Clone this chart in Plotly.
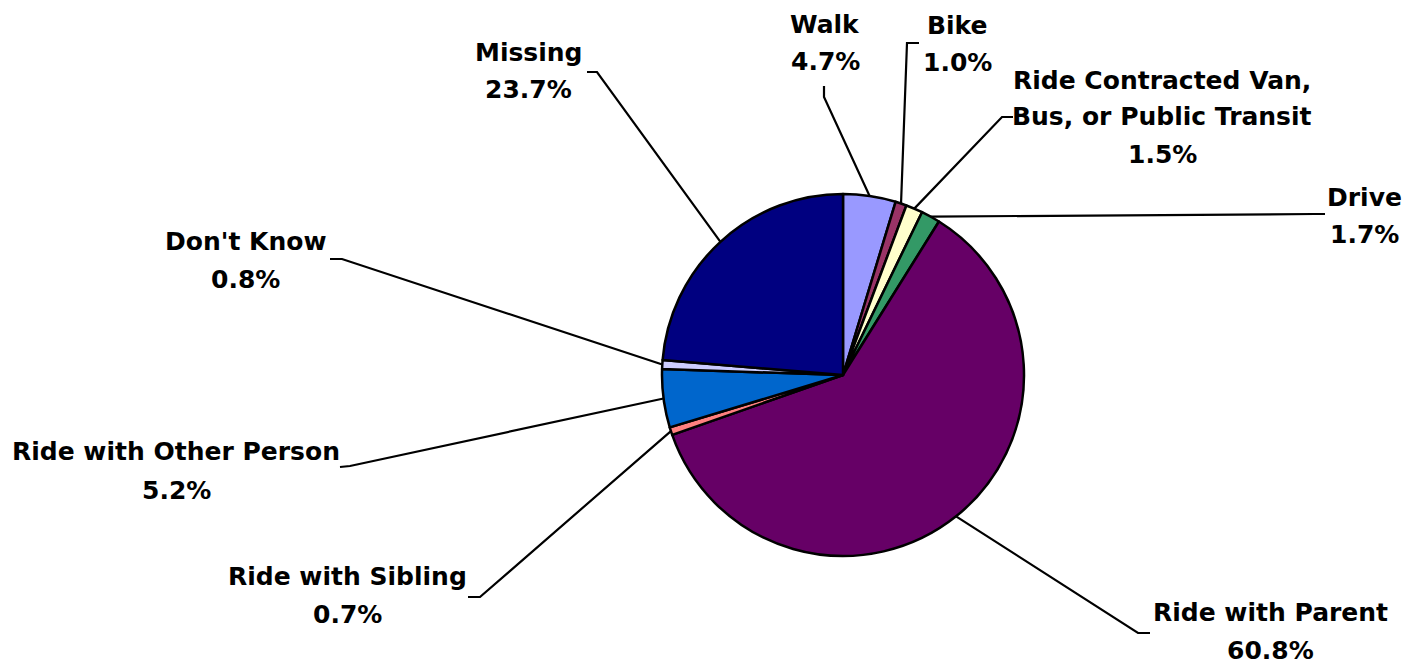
import plotly.graph_objects as go
import math

# ---- data ----
categories = ["Walk", "Bike", "Ride Contracted Van, Bus, or Public Transit", "Drive",
              "Ride with Parent", "Ride with Sibling", "Ride with Other Person",
              "Don't Know", "Missing"]
values = [4.7, 1.0, 1.5, 1.7, 60.8, 0.7, 5.2, 0.8, 23.7]
colors = ["#9999FF", "#993366", "#FFFFCC", "#339966", "#660066",
          "#FF8080", "#0066CC", "#CCCCFF", "#000080"]
label_lines = [["Walk"], ["Bike"], ["Ride Contracted Van,", "Bus, or Public Transit"],
               ["Drive"], ["Ride with Parent"], ["Ride with Sibling"],
               ["Ride with Other Person"], ["Don't Know"], ["Missing"]]

# ---- layout (pixels) ----
W, H = 1409, 667
CX, CY, R = 843, 375, 181
# label centre (x, y of first line), line spacing
label_pos = [(825, 24), (957, 25), (1162, 80), (1364, 197), (1270, 612),
             (347, 576), (176, 452), (245, 241), (528, 52)]
LINE_GAP = 38
# leader line: elbow point and end point
leaders = [((824, 97), (824, 86)), ((907, 43), (919, 43)), ((1002, 117), (1013, 117)),
           ((1314, 214), (1325, 214)), ((1138, 633), (1150, 633)),
           ((480, 597), (468, 597)), ((350, 466), (340, 467)),
           ((342, 259), (330, 259)), ((597, 72), (587, 72))]

def px(x):
    return x / W

def py(y):
    return 1 - y / H

fig = go.Figure(go.Pie(
    labels=categories, values=values, sort=False, direction="clockwise", rotation=0,
    marker=dict(colors=colors, line=dict(color="black", width=2.5)),
    textinfo="none", hoverinfo="label+percent",
    domain=dict(x=[px(CX - R), px(CX + R)], y=[py(CY + R), py(CY - R)]),
))

total = sum(values)
shapes, annotations = [], []
cum = 0.0
FONT = dict(family="DejaVu Sans, Liberation Sans, Arial", size=25, color="black", weight="bold")
for v, lines, (lx, ly), (elbow, end) in zip(values, label_lines, label_pos, leaders):
    mid = (cum + v / 2) / total * 2 * math.pi
    cum += v
    sx = CX + R * math.sin(mid)
    sy = CY - R * math.cos(mid)
    path = f"M {px(sx)},{py(sy)} L {px(elbow[0])},{py(elbow[1])} L {px(end[0])},{py(end[1])}"
    shapes.append(dict(type="path", path=path, xref="paper", yref="paper",
                       line=dict(color="black", width=2.2)))
    texts = lines + [f"{v:.1f}%"]
    gap = 37 if len(texts) == 3 else LINE_GAP
    for i, t in enumerate(texts):
        annotations.append(dict(text=t, x=px(lx), y=py(ly + i * gap),
                                xref="paper", yref="paper", xanchor="center", yanchor="middle",
                                showarrow=False, font=FONT))

fig.update_layout(width=W, height=H, margin=dict(l=0, r=0, t=0, b=0),
                  paper_bgcolor="white", plot_bgcolor="white", showlegend=False,
                  shapes=shapes, annotations=annotations)
fig.write_html("out.html", config={"displayModeBar": False},
               post_script="document.body.style.margin='0';document.body.style.overflow='hidden';")
